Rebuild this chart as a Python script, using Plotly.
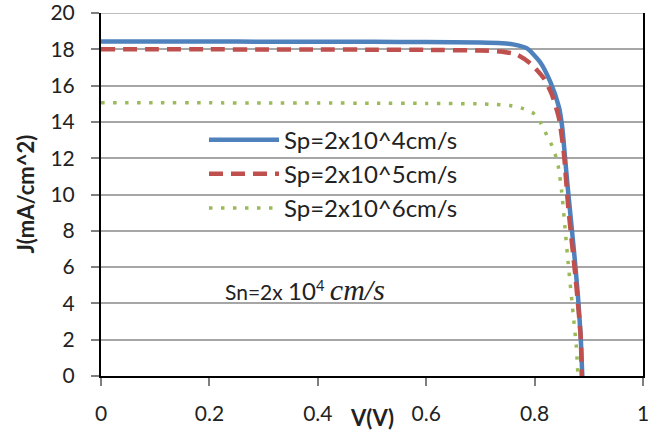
import plotly.graph_objects as go

# J-V curves for three rear recombination velocities Sp (Sn fixed at 2x10^4 cm/s)
v_sp4 = [0, 0.1, 0.2, 0.3, 0.4, 0.5, 0.6, 0.7, 0.74, 0.76, 0.786, 0.81, 0.829, 0.845,
         0.851, 0.856, 0.861, 0.873, 0.88, 0.885, 0.888]
j_sp4 = [18.43, 18.43, 18.43, 18.42, 18.42, 18.41, 18.40, 18.37, 18.33, 18.27, 18.05, 17.3,
         16.2, 14.8, 13.7, 12.1, 10.43, 6.77, 4.4, 2.17, 0.0]

v_sp5 = [0, 0.1, 0.2, 0.3, 0.4, 0.5, 0.6, 0.7, 0.738, 0.768, 0.793, 0.817, 0.832, 0.845,
         0.854, 0.862, 0.876, 0.885, 0.887]
j_sp5 = [18.0, 18.0, 18.0, 17.99, 17.99, 17.98, 17.97, 17.93, 17.88, 17.7, 17.2, 16.4,
         15.5, 14.2, 12.27, 9.33, 5.29, 2.17, 0.0]

v_sp6 = [0, 0.1, 0.2, 0.3, 0.4, 0.5, 0.6, 0.7, 0.73, 0.755, 0.777, 0.798, 0.81, 0.822,
         0.832, 0.838, 0.844, 0.85, 0.856, 0.862, 0.871, 0.877, 0.88]
j_sp6 = [15.05, 15.05, 15.05, 15.04, 15.04, 15.03, 15.02, 14.99, 14.96, 14.9, 14.75, 14.47,
         14.0, 13.3, 12.7, 12.2, 11.5, 10.15, 8.2, 6.2, 3.45, 1.6, 0.0]

series_names = ["Sp=2x10^4cm/s", "Sp=2x10^5cm/s", "Sp=2x10^6cm/s"]

x_ticks = [0, 0.2, 0.4, 0.6, 0.8, 1]
x_tick_text = ["0", "0.2", "0.4", "0.6", "0.8", "1"]
y_ticks = list(range(0, 21, 2))
y_max = y_ticks[-1]

FONT = "Lato"
TEXT = "#222222"
GRID = "#A6A6A6"

fig = go.Figure()
fig.add_trace(go.Scatter(
    x=v_sp4, y=j_sp4, mode="lines", name=series_names[0],
    line=dict(color="#4F81BD", width=4.5, shape="spline", smoothing=0.6),
))
fig.add_trace(go.Scatter(
    x=v_sp5, y=j_sp5, mode="lines", name=series_names[1],
    line=dict(color="#C0504D", width=4.5, dash="14px,8px", shape="spline", smoothing=0.6),
))
fig.add_trace(go.Scatter(
    x=v_sp6, y=j_sp6, mode="lines", name=series_names[2],
    line=dict(color="#9BBB59", width=3.5, dash="3.5px,8.5px", shape="spline", smoothing=0.6),
))

# top gridline sits on the plot edge, draw it explicitly
fig.add_shape(type="line", xref="paper", yref="y", x0=0, x1=1, y0=y_max, y1=y_max,
              line=dict(color=GRID, width=1.5), layer="below")

fig.update_layout(
    width=665, height=434,
    margin=dict(l=101, r=22, t=13, b=58, autoexpand=False),
    paper_bgcolor="white", plot_bgcolor="white",
    font=dict(family=FONT, size=21, color=TEXT),
    showlegend=True,
    legend=dict(
        x=0.19, y=0.712, xanchor="left", yanchor="top",
        bgcolor="rgba(0,0,0,0)", borderwidth=0,
        itemwidth=70, font=dict(family=FONT, size=24, color=TEXT),
        tracegroupgap=0,
    ),
    xaxis=dict(
        range=[0, 1], tickvals=x_ticks, ticktext=x_tick_text,
        automargin=False, ticklabeloverflow="allow",
        showgrid=False, zeroline=False,
        showline=True, linecolor="black", linewidth=2,
        ticks="outside", ticklen=8, tickwidth=1.5, tickcolor="#7F7F7F",
        ticklabelstandoff=10,
        tickfont=dict(family=FONT, size=21, color=TEXT),
    ),
    yaxis=dict(
        range=[0, y_max], tickvals=y_ticks,
        automargin=False, ticklabeloverflow="allow",
        showgrid=True, gridcolor=GRID, gridwidth=1.5, zeroline=False,
        showline=True, linecolor="black", linewidth=2, mirror=True,
        ticks="outside", ticklen=8, tickwidth=1.5, tickcolor="#7F7F7F",
        ticklabelstandoff=12,
        tickfont=dict(family=FONT, size=21, color=TEXT),
    ),
    annotations=[
        dict(text="<b>V(V)</b>", xref="paper", yref="paper", x=0.5, y=-0.113,
             xanchor="center", yanchor="middle", showarrow=False,
             font=dict(family=FONT, size=22, color=TEXT)),
        dict(text="<b>J(mA/cm^2)</b>", xref="paper", yref="paper", x=-0.14, y=0.5,
             xanchor="center", yanchor="middle", textangle=-90, showarrow=False,
             font=dict(family=FONT, size=22, color=TEXT)),
        dict(text="Sn=2x <span style='font-size:24px'>10</span><sup>4</sup> "
                  "<span style='font-family:Liberation Serif;font-size:30px'><i>cm/s</i></span>",
             xref="x", yref="y", x=0.225, y=4.75, xanchor="left", yanchor="middle",
             showarrow=False, font=dict(family=FONT, size=21, color=TEXT)),
    ],
)

fig.write_html("out.html")
